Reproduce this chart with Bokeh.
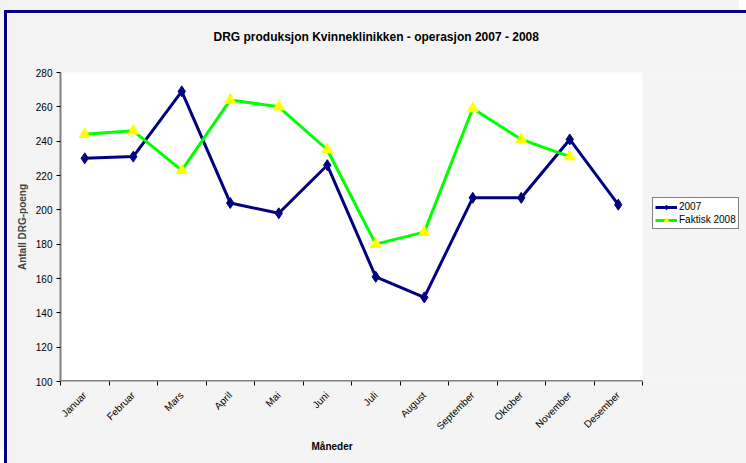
import math
from bokeh.plotting import figure
from bokeh.models import (FixedTicker, Legend, LegendItem, Range1d, Title)
from bokeh.embed import file_html
from bokeh.resources import INLINE

months = ["Januar", "Februar", "Mars", "April", "Mai", "Juni", "Juli",
          "August", "September", "Oktober", "November", "Desember"]
values_2007 = [230, 231, 269, 204, 198, 226, 161, 149, 207, 207, 241, 203]
values_2008 = [244, 246, 223, 264, 260, 235, 180, 187, 259, 241, 231]
y_ticks = [100, 120, 140, 160, 180, 200, 220, 240, 260, 280]

x_2007 = list(range(1, len(values_2007) + 1))
x_2008 = list(range(1, len(values_2008) + 1))

FONT = "Liberation Sans"
W, H = 739, 450
LEFT, PLOT_RIGHT = 53, 635
n = len(months)
x_start = 0.5
x_end = x_start + n * (W - LEFT) / (PLOT_RIGHT - LEFT)

p = figure(width=W, height=H, output_backend="svg", toolbar_location=None,
           x_range=Range1d(x_start, x_end), y_range=Range1d(100, 280),
           min_border_left=LEFT, min_border_right=0, min_border_top=59,
           min_border_bottom=82)
p.styles = {"margin-left": "7px", "margin-top": "13px",
            "outline": "3px solid #000080",
            "box-shadow": "-7px -13px 0 0 #f4f4f4"}
p.background_fill_color = "#f4f4f4"
p.border_fill_color = "#f4f4f4"
p.outline_line_color = None
p.grid.visible = False

# white plot area
p.quad(left=[0.5], right=[n + 0.5], bottom=[100], top=[280],
       fill_color="white", line_color=None)
p.line([0.5, n + 0.5], [100, 100], line_color="#808080", line_width=3)

# spacer between frame and title
spacer = Title(text=" ", text_font=FONT, text_font_size="1px", standoff=24)
p.add_layout(spacer, "above")

p.title.text = "DRG produksjon Kvinneklinikken - operasjon 2007 - 2008"
p.title.align = "left"
p.title.offset = 153
p.title.text_font = FONT
p.title.text_font_size = "12px"
p.title.text_font_style = "bold"
p.title.text_color = "black"
p.title.standoff = 4

# x axis
xa = p.xaxis[0]
xa.ticker = FixedTicker(ticks=x_2007, minor_ticks=[i + 0.5 for i in range(0, n + 1)])
xa.major_label_overrides = {i + 1: m for i, m in enumerate(months)}
xa.major_label_orientation = math.pi / 4
xa.major_tick_line_color = None
xa.minor_tick_in = 0
xa.minor_tick_out = 4
xa.minor_tick_line_color = "black"
xa.axis_line_color = None
xa.major_label_text_font = FONT
xa.major_label_text_font_size = "10px"
xa.major_label_text_color = "black"
xa.major_label_standoff = 6

xlab = Title(text="Måneder", align="left", offset=251, text_font=FONT,
             text_font_size="10px", text_font_style="bold", text_color="black",
             standoff=0)
p.add_layout(xlab, "below")

ya = p.yaxis[0]
ya.ticker = FixedTicker(ticks=y_ticks)
ya.minor_tick_line_color = None
ya.major_tick_in = 0
ya.major_tick_out = 4
ya.major_tick_line_color = "black"
ya.axis_line_color = "#808080"
ya.axis_line_width = 2
ya.major_label_text_font = FONT
ya.major_label_text_font_size = "10px"
ya.major_label_text_color = "black"
ya.major_label_standoff = 4
ya.axis_label = "Antall DRG-poeng"
ya.axis_label_text_font = FONT
ya.axis_label_text_font_size = "10px"
ya.axis_label_text_font_style = "bold"
ya.axis_label_standoff = 5

l1 = p.line(x_2007, values_2007, line_color="#000080", line_width=3)
s1 = p.scatter(x_2007, values_2007, marker="diamond", size=11,
               fill_color="#000080", line_color="#000080")
l2 = p.line(x_2008, values_2008, line_color="#00ff00", line_width=3)
s2 = p.scatter(x_2008, values_2008, marker="triangle", size=11,
               fill_color="#ffff00", line_color="#ffff00")

legend = Legend(items=[LegendItem(label="2007", renderers=[l1, s1]),
                       LegendItem(label="Faktisk 2008", renderers=[l2, s2])],
                location=(592, 152))
legend.label_text_font = FONT
legend.label_text_font_size = "10px"
legend.label_text_color = "black"
legend.border_line_color = "black"
legend.border_line_width = 1
legend.background_fill_color = "white"
legend.background_fill_alpha = 1
legend.glyph_width = 22
legend.glyph_height = 12
legend.label_standoff = 2
legend.padding = 2
legend.spacing = 0
legend.margin = 0
legend.label_height = 13
p.add_layout(legend, "center")

open("out.html", "w").write(file_html(p, INLINE))
